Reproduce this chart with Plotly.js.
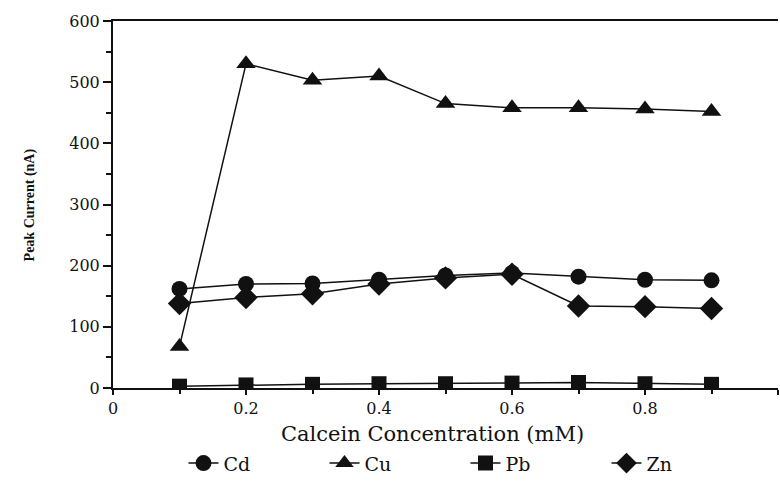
<!DOCTYPE html>
<html><head><meta charset="utf-8">
<script src="https://cdn.plot.ly/plotly-3.0.1.min.js"></script>
<style>html,body{margin:0;padding:0;background:#fff}#chart{width:780px;height:481px}</style>
</head><body><div id="chart"></div>
<script>
const conc = [0.1,0.2,0.3,0.4,0.5,0.6,0.7,0.8,0.9];
const cd = [162,170,171,177,184,188,182,177,176];
const cu = [68,530,503,510,465,458,458,456,452];
const pb = [3,5,6,7,7,8,9,7,6];
const zn = [138,148,154,170,180,186,134,133,130];
const names = ['Cd','Cu','Pb','Zn'];
const symbols = ['circle','triangle-up','square','diamond'];
const sizes = [16,17,15,18];
const series = [cd,cu,pb,zn];
const font = 'DejaVu Serif';
const traces = series.map((s,i)=>({
  x: conc, y: s, name: names[i], type:'scatter', mode:'lines+markers',
  line:{color:'#111', width:1.5},
  marker:{symbol:symbols[i], size:sizes[i], color:'#111'}
}));
const layout = {
  width:780, height:481,
  margin:{l:113, r:2, t:21, b:93, autoexpand:false},
  paper_bgcolor:'#fff', plot_bgcolor:'#fff',
  font:{family:font, color:'#111', size:15},
  showlegend:true,
  legend:{orientation:'h', x:0.106, xanchor:'left', y:-0.205, yanchor:'middle',
          font:{family:font, size:19}, entrywidth:96, entrywidthmode:'pixels'},
  xaxis:{range:[0,1], showgrid:false, zeroline:false, showline:true, linecolor:'#111', linewidth:2,
         mirror:true, ticks:'outside', ticklen:5, tickcolor:'#111', tickwidth:2,
         tickvals:[0,0.2,0.4,0.6,0.8,1], ticktext:['0','0.2','0.4','0.6','0.8','1'],
         minor:{dtick:0.1, ticks:'outside', ticklen:4, tickcolor:'#111', tickwidth:2},
         tickfont:{family:font, size:16}},
  yaxis:{range:[0,600], showgrid:false, zeroline:false, showline:true, linecolor:'#111', linewidth:2,
         ticks:'outside', ticklen:8, tickcolor:'#111', tickwidth:2, dtick:100,
         minor:{dtick:50, ticks:'outside', ticklen:5, tickcolor:'#111', tickwidth:2},
         tickfont:{family:font, size:16}},
  annotations:[
    {text:'<b>Peak Current (nA)</b>', xref:'paper', yref:'paper', x:-0.14, y:0.5,
     textangle:-90, showarrow:false, font:{family:'Liberation Serif', size:14, color:'#111'}},
    {text:'Calcein Concentration (mM)', xref:'paper', yref:'paper', x:0.48, y:-0.125,
     xanchor:'center', yanchor:'middle', showarrow:false, font:{family:font, size:21, color:'#111'}}
  ]
};
Plotly.newPlot('chart', traces, layout, {displayModeBar:false});
</script></body></html>
